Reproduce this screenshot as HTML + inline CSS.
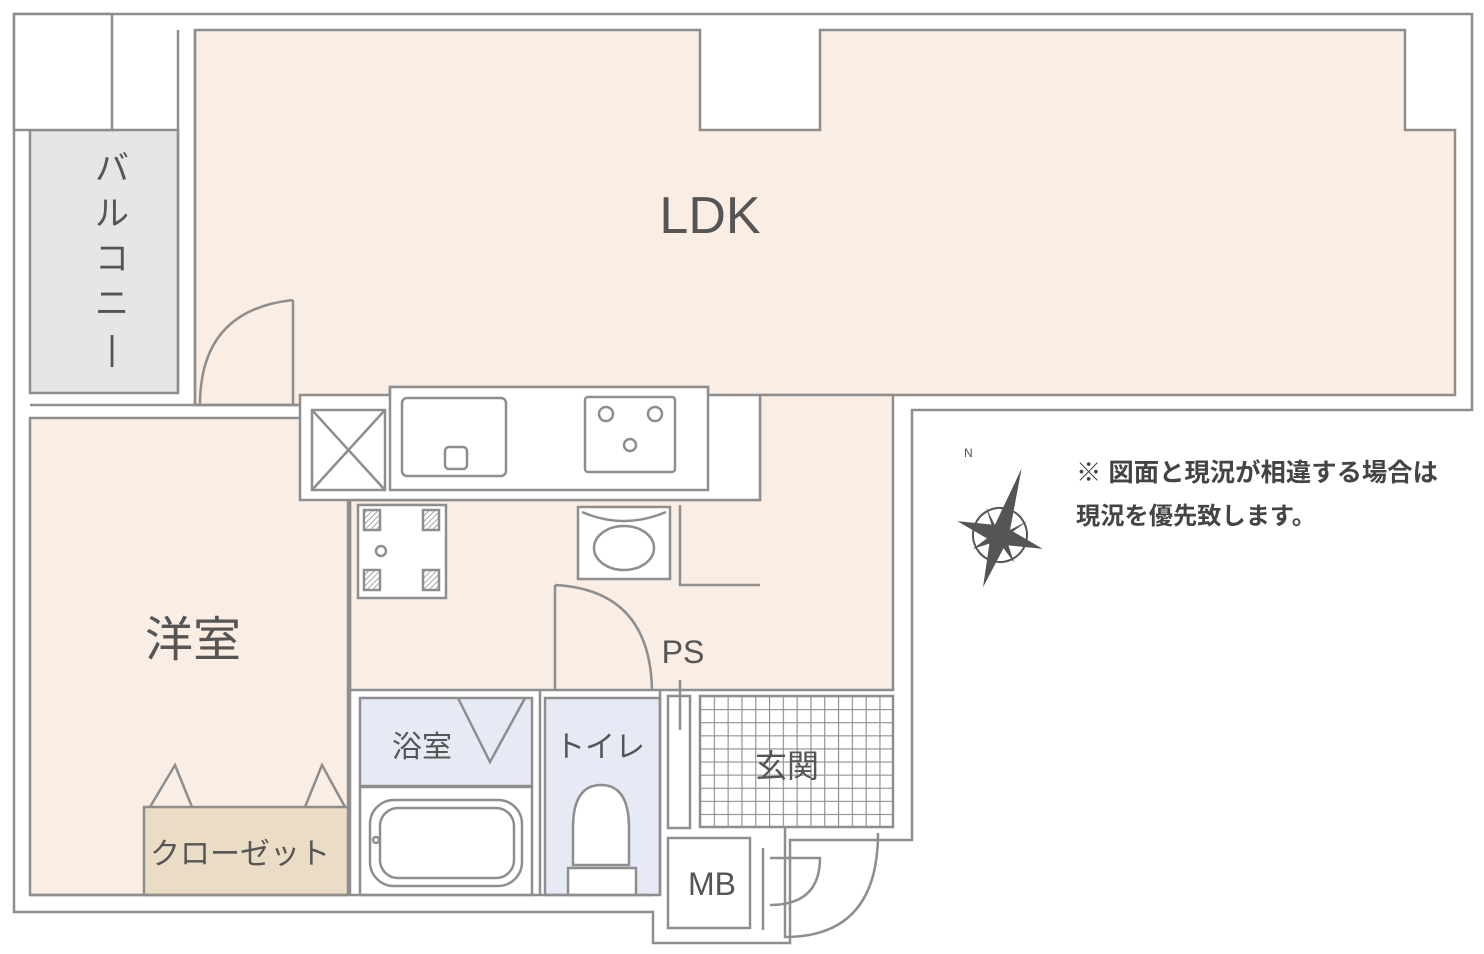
<!DOCTYPE html>
<html><head><meta charset="utf-8"><style>
html,body{margin:0;padding:0;background:#fff;width:1484px;height:954px;overflow:hidden}
svg{display:block}
text{font-family:"Liberation Sans","Noto Sans CJK JP",sans-serif;fill:#555}
</style></head><body>
<svg width="1484" height="954" viewBox="0 0 1484 954" xmlns="http://www.w3.org/2000/svg">
<defs>
<pattern id="tile" x="700" y="696" width="13.8" height="13.1" patternUnits="userSpaceOnUse">
<rect width="13.8" height="13.1" fill="#fff"/>
<path d="M0 0H13.8M0 0V13.1" stroke="#8c8c8c" stroke-width="2.2" fill="none"/>
</pattern>
<pattern id="hatch" width="4" height="4" patternUnits="userSpaceOnUse" patternTransform="rotate(45)">
<rect width="4" height="4" fill="#fff"/><path d="M0 0V4" stroke="#888" stroke-width="1.5"/>
</pattern>
</defs>
<g stroke="#8e8e8e" stroke-width="2.5" fill="none">
<path d="M14 14H1472V410H912V840H790V943H653V912H14Z" fill="#fff"/>
<path d="M195 30H700V130H820V30H1405V130H1455V395H760V492H708V387H390V405H300V405H195Z" fill="#f9ede4"/>
<rect x="30" y="130" width="148" height="263" fill="#e6e6e6"/>
<rect x="14" y="14" width="98" height="116" fill="#fff"/>
<rect x="30" y="418" width="318" height="477" fill="#f9ede4"/>
<path d="M350 500H760V395H893V690H350Z" fill="#f9ede4"/>
<rect x="144" y="807" width="204" height="88" fill="#eadcc5"/>
<path d="M150 807L175 765L192 807M305 807L322 765L345 807"/>
<rect x="300" y="395" width="460" height="105" fill="#fff"/>
<rect x="390" y="387" width="318" height="103" fill="#fff"/>
<rect x="312" y="410" width="73" height="80" fill="#fff"/>
<path d="M312 410L385 490M385 410L312 490"/>
<rect x="402" y="398" width="104" height="78" rx="5" fill="#fff"/>
<rect x="445" y="447" width="22" height="22" rx="4" fill="#fff"/>
<rect x="585" y="397" width="90" height="75" rx="3" fill="#fff"/>
<circle cx="606" cy="414" r="7"/><circle cx="655" cy="414" r="7"/><circle cx="630" cy="445" r="6"/>
<rect x="358" y="505" width="88" height="93" fill="#fff"/>
<rect x="364" y="510" width="16" height="20" fill="url(#hatch)"/><rect x="423" y="510" width="16" height="20" fill="url(#hatch)"/>
<rect x="364" y="570" width="16" height="20" fill="url(#hatch)"/><rect x="423" y="570" width="16" height="20" fill="url(#hatch)"/>
<circle cx="381" cy="551" r="5"/>
<rect x="578" y="507" width="92" height="72" fill="#fff"/>
<path d="M582 512Q624 530 666 512"/><ellipse cx="624" cy="548" rx="30" ry="22"/>
<path d="M680 505V585H760"/>
<rect x="360" y="698" width="172" height="88" fill="#e6eaf5"/>
<path d="M458 698L490 762L525 698"/>
<rect x="360" y="787" width="172" height="108" fill="#fff"/>
<rect x="370" y="800" width="152" height="86" rx="24"/>
<rect x="380" y="808" width="134" height="70" rx="18"/>
<circle cx="376" cy="840" r="3"/>
<rect x="545" y="698" width="115" height="197" fill="#e6eaf5"/>
<path d="M573 865V828Q573 785 601 785Q629 785 629 828V865Z" fill="#fff"/>
<rect x="568" y="868" width="68" height="27" fill="#fff"/>
<rect x="668" y="696" width="22" height="132" fill="#fff"/>
<path d="M680 680V730"/>
<rect x="700" y="696" width="193" height="131" fill="url(#tile)"/>
<rect x="668" y="838" width="82" height="90" fill="#fff"/>
<path d="M763 848V930M785 828V937Q878 937 878 833M770 858H820Q820 905 770 905"/>
<path d="M293 300V405M200 405Q200 310 293 300"/>
<path d="M555 585V690M555 585Q650 590 652 690"/>
<path d="M30 405H300M178 30V393M195 30V405M350 500V895M540 690V895M660 690V895M30 895H653"/>
</g>
<text x="710" y="233" font-size="52" text-anchor="middle">LDK</text>
<text font-size="34" text-anchor="middle" x="112"><tspan x="112" y="180">バ</tspan><tspan x="112" y="225">ル</tspan><tspan x="112" y="270">コ</tspan><tspan x="112" y="315">ニ</tspan><tspan x="112" y="360">|</tspan></text>
<text x="193" y="656" font-size="48" text-anchor="middle">洋室</text>
<text x="240" y="864" font-size="30" text-anchor="middle">クローゼット</text>
<text x="422" y="757" font-size="30" text-anchor="middle">浴室</text>
<text x="600" y="757" font-size="30" text-anchor="middle">トイレ</text>
<text x="787" y="777" font-size="32" text-anchor="middle">玄関</text>
<text x="683" y="663" font-size="32" text-anchor="middle">PS</text>
<text x="712" y="895" font-size="32" text-anchor="middle">MB</text>
<text x="1076" y="481" font-size="25" font-weight="bold" style="fill:#444" textLength="362" lengthAdjust="spacingAndGlyphs">※ 図面と現況が相違する場合は</text>
<text x="1076" y="524" font-size="24" font-weight="bold" style="fill:#444" textLength="240" lengthAdjust="spacingAndGlyphs">現況を優先致します。</text>
<g transform="translate(1000,535) rotate(18)">
<circle r="27" fill="none" stroke="#555" stroke-width="2"/>
<path d="M0-70L8-8L45 0L8 8L0 55L-8 8L-45 0L-8-8Z" fill="#555"/>
<path d="M0 0L22-22L6 0L22 22L0 6L-22 22L-6 0L-22-22Z" fill="#555"/>
</g>
<text x="964" y="457" font-size="12" style="fill:#555">N</text>
</svg>
</body></html>
